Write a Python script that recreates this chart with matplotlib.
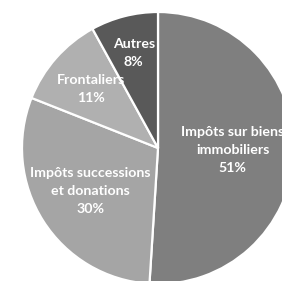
import matplotlib
matplotlib.use("Agg")
import matplotlib.pyplot as plt
import numpy as np

categories = ["Impôts sur biens\nimmobiliers", "Impôts successions\net donations", "Frontaliers", "Autres"]
values = [51, 30, 11, 8]
colors = ["#7f7f7f", "#a5a5a5", "#b0b0b0", "#595959"]
label_dist = [0.55, 0.59, 0.66, 0.72]

W, H = 282, 281
fig = plt.figure(figsize=(W / 100, H / 100), dpi=100)
cx, cy, r = 158, 281 - 148, 136
ax = fig.add_axes([(cx - r) / W, (cy - r) / H, 2 * r / W, 2 * r / H])

wedges, _ = ax.pie(values, colors=colors, startangle=90, counterclock=False,
                   wedgeprops=dict(edgecolor="white", linewidth=1.6), radius=1)
ax.set_xlim(-1, 1)
ax.set_ylim(-1, 1)
ax.set_aspect("equal")
ax.axis("off")

for w, cat, v, d in zip(wedges, categories, values, label_dist):
    ang = np.deg2rad((w.theta1 + w.theta2) / 2)
    ax.text(d * np.cos(ang), d * np.sin(ang), f"{cat}\n{v}%", ha="center", va="center",
            color="white", fontsize=10.2, fontweight="bold", family="Lato",
            linespacing=1.6, clip_on=False)

fig.savefig("out.png", dpi=100)
